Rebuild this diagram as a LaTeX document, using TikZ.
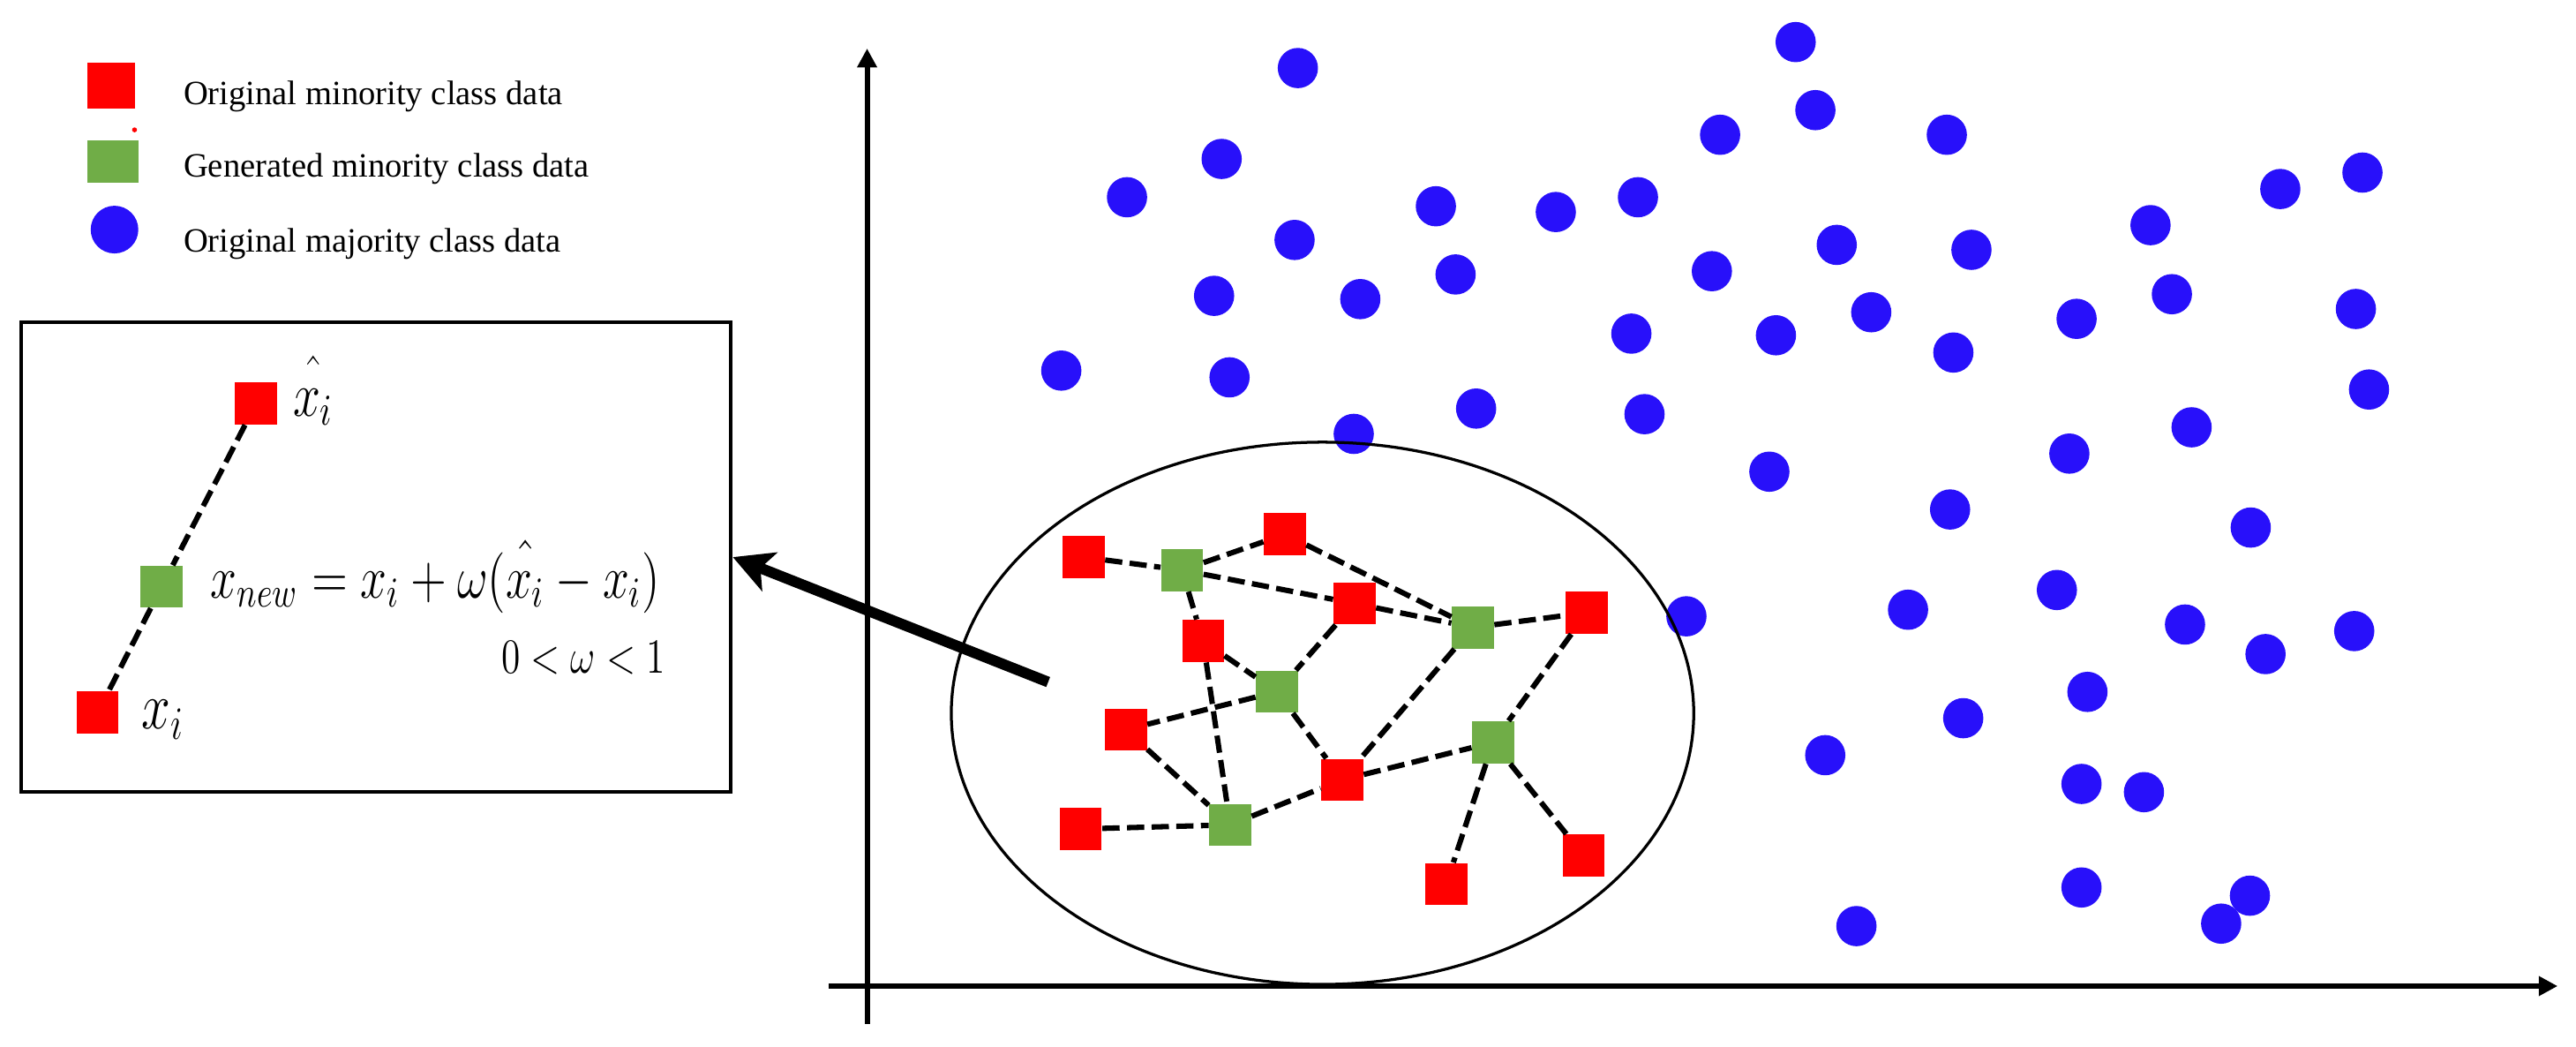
\RequirePackage{fix-cm}
\documentclass[tikz,border=0pt]{standalone}
\usepackage[no-math]{fontspec}
\newfontfamily\legendfont{Liberation Serif}
\usepackage{graphicx}
\usetikzlibrary{arrows.meta}
\definecolor{myred}{RGB}{255,0,0}
\definecolor{mygreen}{RGB}{112,173,71}
\definecolor{myblue}{RGB}{40,16,250}
\begin{document}
\begin{tikzpicture}[x=0.02cm, y=-0.02cm,
  redsq/.style={rectangle, fill=myred, minimum width=0.51cm, minimum height=0.51cm, inner sep=0},
  greensq/.style={rectangle, fill=mygreen, minimum width=0.51cm, minimum height=0.51cm, inner sep=0},
  bluedot/.style={circle, fill=myblue, minimum size=0.49cm, inner sep=0},
  link/.style={line width=0.065cm, dash pattern=on 0.21cm off 0.09cm},
  axisline/.style={line width=0.065cm, -{Triangle[length=0.23cm,width=0.23cm]}},
  bigarrow/.style={line width=0.13cm, -{Stealth[length=0.48cm,width=0.5cm,inset=0.12cm]}},
  legtext/.style={anchor=base west, inner sep=0, font=\legendfont\fontsize{11.8}{14}\selectfont},
  mathlbl/.style={anchor=base west, inner sep=0}]
\useasboundingbox (0,0) rectangle (1568,637);

% legend
\node[rectangle, fill=myred, minimum width=0.58cm, minimum height=0.56cm, inner sep=0] (lr) at (67.5,52) {};
\node[rectangle, fill=mygreen, minimum width=0.62cm, minimum height=0.52cm, inner sep=0] (lg) at (68.7,98.3) {};
\node[circle, fill=myblue, minimum size=0.58cm, inner sep=0] (lb) at (69.7,139.7) {};
\node[circle, fill=myred, minimum size=0.06cm, inner sep=0] (speck) at (81.9,79) {};
\node[legtext] (lrt) at (111.4,63.5) {Original minority class data};
\node[legtext] (lgt) at (111.4,107.8) {Generated minority class data};
\node[legtext] (lbt) at (111.4,153.6) {Original majority class data};

% zoom box
\node[draw, line width=0.045cm, minimum width=8.64cm, minimum height=5.72cm, inner sep=0] (zoombox) at (229,339) {};
\node[redsq] (bxa) at (155.9,245.5) {};
\node[greensq] (bxn) at (98.4,357) {};
\node[redsq] (bxb) at (59.5,433.6) {};
\draw[link] (bxa) -- (bxn) -- (bxb);
\node[mathlbl, font=\fontsize{17}{20}\selectfont] (lhat) at (178,253) {\scalebox{1}[1.28]{$\hat{\vphantom{l}x_i}$}};
\node[mathlbl, font=\fontsize{16.4}{20}\selectfont] (formula) at (128,364) {\scalebox{1}[1.28]{$x_{new} = x_i + \omega(\hat{\vphantom{l}x_i} - x_i)$}};
\node[mathlbl, font=\fontsize{13.3}{16}\selectfont] (cond) at (305,409.4) {\scalebox{1}[1.28]{$0 < \omega < 1$}};
\node[mathlbl, font=\fontsize{18}{21}\selectfont] (lxi) at (86,443.6) {\scalebox{1}[1.28]{$x_i$}};

% axes
\coordinate (yb) at (527.8,623);
\coordinate (yt) at (527.8,29.5);
\coordinate (xl) at (504.5,600);
\coordinate (xr) at (1556.8,600);
\draw[axisline] (yb) -- (yt);
\draw[axisline] (xl) -- (xr);

% majority dots
\foreach \px/\py [count=\k] in {790/41.4, 1093/25.6, 1105/67, 1047/82, 1185/82, 743.6/96.7, 686/120, 874/125.5, 947/129, 997/120,
  788/146, 1118/149, 1200/152, 1042/165, 1309/137, 1388/115, 1438/105, 739/180, 828/182, 886/167,
  1139/190, 1264/194, 1322/179, 1434/188, 646/225.5, 748.4/229.6, 993/203, 1081/204, 1189/214.5, 898.5/248.6,
  1001/252, 824/264, 1442/237, 1334/260, 1259.6/276, 1077/287, 1187/310, 1370/321, 1252/359, 1026.5/375,
  1161.4/371, 1379/398, 1330/380, 1433/384, 1270.6/421, 1195/437, 1111/459.5, 1267/477, 1305/482, 1267/540,
  1369.5/545, 1352/562, 1130/563.5}
  \node[bluedot] (d\k) at (\px,\py) {};

% neighbourhood ellipse
\draw[line width=0.035cm] (805,434) ellipse [x radius=4.52cm, y radius=3.3cm];

% minority points
\node[redsq] (r1) at (659.6,339) {};
\node[greensq] (g1) at (719.5,346.9) {};
\node[redsq] (r2) at (782.1,325.1) {};
\node[redsq] (r3) at (824.5,367.2) {};
\node[greensq] (g2) at (896.5,381.8) {};
\node[redsq] (r4) at (965.9,372.8) {};
\node[redsq] (r5) at (732.3,390) {};
\node[greensq] (g3) at (777.3,420.9) {};
\node[redsq] (r6) at (685.3,444) {};
\node[greensq] (g4) at (908.8,451.7) {};
\node[redsq] (r7) at (817,474.5) {};
\node[redsq] (r8) at (657.9,504.4) {};
\node[greensq] (g5) at (748.8,501.9) {};
\node[redsq] (r9) at (963.9,520.5) {};
\node[redsq] (r10) at (880.3,537.9) {};

\draw[link] (r1) -- (g1);
\draw[link] (g1) -- (r2);
\draw[link] (g1) -- (r3);
\draw[link] (r3) -- (g2);
\draw[link] (r2) -- (g2);
\draw[link] (g2) -- (r4);
\draw[link] (g1) -- (r5);
\draw[link] (r5) -- (g3);
\draw[link] (r3) -- (g3);
\draw[link] (g3) -- (r6);
\draw[link] (g3) -- (r7);
\draw[link] (r5) -- (g5);
\draw[link] (r6) -- (g5);
\draw[link] (r8) -- (g5);
\draw[link] (g5) -- (r7);
\draw[link] (g2) -- (r7);
\draw[link] (r7) -- (g4);
\draw[link] (r4) -- (g4);
\draw[link] (g4) -- (r10);
\draw[link] (g4) -- (r9);

% thick arrow to zoom box
\coordinate (tail) at (638,415);
\draw[bigarrow] (tail) -- (zoombox.east);
\end{tikzpicture}
\end{document}
